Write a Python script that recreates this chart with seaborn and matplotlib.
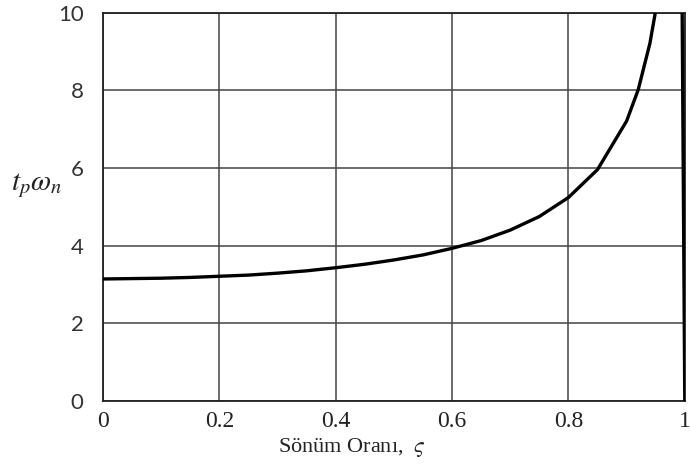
import matplotlib
matplotlib.use("Agg")
import matplotlib.pyplot as plt
import seaborn as sns
import pandas as pd

# Data (damping ratio vs normalized peak time)
zeta = [0.0, 0.05, 0.10, 0.15, 0.20, 0.25, 0.30, 0.35, 0.40, 0.45, 0.50,
        0.55, 0.60, 0.65, 0.70, 0.75, 0.80, 0.85, 0.90, 0.92, 0.94, 0.95,
        0.99, 1.0]
tp_wn = [3.14, 3.15, 3.16, 3.18, 3.21, 3.24, 3.29, 3.35, 3.43, 3.52, 3.63,
         3.76, 3.93, 4.13, 4.40, 4.75, 5.24, 5.96, 7.21, 8.02, 9.21, 10.06,
         22.3, 0.0]
x_ticks = [0, 0.2, 0.4, 0.6, 0.8, 1]
x_labels = ["0", "0.2", "0.4", "0.6", "0.8", "1"]
y_ticks = [0, 2, 4, 6, 8, 10]
y_labels = ["0", "2", "4", "6", "8", "10"]

sns.set_style("white")
plt.rcParams["mathtext.fontset"] = "stix"

df = pd.DataFrame({"zeta": zeta, "tpwn": tp_wn})

fig = plt.figure(figsize=(6.91, 4.76), dpi=100)
ax = fig.add_axes([0.149, 0.158, 0.842, 0.815])

sns.lineplot(data=df, x="zeta", y="tpwn", ax=ax, color="black",
             linewidth=2.4, sort=False, zorder=3)

ax.set_xlim(0, 1)
ax.set_ylim(0, 10)
ax.set_xticks(x_ticks)
ax.set_xticklabels(x_labels, family="Liberation Serif", fontsize=17)
ax.set_yticks(y_ticks)
ax.set_yticklabels(y_labels, family="Lato", fontsize=16)
ax.tick_params(axis="x", length=0, pad=7, colors="#222222")
ax.tick_params(axis="y", length=0, pad=14, colors="#333333")
ax.grid(True, color="#444444", linewidth=1.1)
for s in ax.spines.values():
    s.set_color("#222222")
    s.set_linewidth(1.3)

ax.set_xlabel("")
ax.set_ylabel("")
fig.text(0.509, 0.059, "Sönüm Oranı,  $\\varsigma$", ha="center", va="center",
         family="Liberation Serif", fontsize=16, color="#222222")
fig.text(0.053, 0.61, "$t_p\\omega_n$", ha="center", va="center",
         fontsize=21, color="#222222")

fig.savefig("out.png", dpi=100)
